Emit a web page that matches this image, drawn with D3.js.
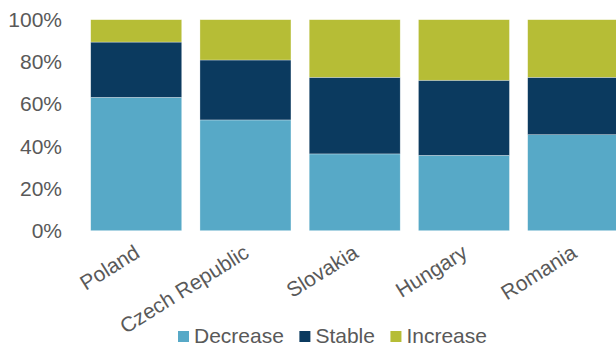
<!DOCTYPE html>
<html>
<head>
<meta charset="utf-8">
<script src="https://cdn.jsdelivr.net/npm/d3@7"></script>
<style>
  html, body { margin: 0; padding: 0; background: #fff; overflow: hidden; }
  svg { display: block; font-family: "Liberation Sans", Arial, sans-serif; }
</style>
</head>
<body>
<svg id="chart" width="616" height="347"></svg>
<script>
// Share of answers per country (percent of respondents)
const countries = ["Poland", "Czech Republic", "Slovakia", "Hungary", "Romania"];
const decrease  = [63.2, 52.5, 36.4, 35.7, 45.5];
const stable    = [26.2, 28.4, 36.3, 35.6, 27.2];
const increase  = [10.6, 19.1, 27.3, 28.7, 27.3];
const seriesNames = ["Decrease", "Stable", "Increase"];
const seriesColors = ["#57A9C7", "#0B3A5F", "#B6BD36"];
const yTicks = [0, 20, 40, 60, 80, 100];

const rows = countries.map((c, i) => ({
  country: c, Decrease: decrease[i], Stable: stable[i], Increase: increase[i]
}));

const svg = d3.select("#chart");
const textColor = "#595959";
const fontSize = "21px";

const x = d3.scaleBand()
  .domain(countries)
  .range([81.6, 627.8])
  .paddingInner(0.167)
  .paddingOuter(0.0835);

const y = d3.scaleLinear().domain([0, 100]).range([230.7, 19.7]);

const color = d3.scaleOrdinal().domain(seriesNames).range(seriesColors);

const stacked = d3.stack().keys(seriesNames)(rows);

// Stacked bars
svg.append("g")
  .selectAll("g")
  .data(stacked)
  .join("g")
  .attr("fill", d => color(d.key))
  .selectAll("rect")
  .data(d => d)
  .join("rect")
  .attr("x", d => x(d.data.country))
  .attr("width", x.bandwidth())
  .attr("y", d => y(d[1]))
  .attr("height", d => y(d[0]) - y(d[1]))
  .attr("stroke", "#ffffff")
  .attr("stroke-width", 0.6)
  .attr("stroke-opacity", 0.5);

// Y axis (labels only)
const yAxis = svg.append("g")
  .attr("transform", "translate(62,0)")
  .call(d3.axisLeft(y).tickValues(yTicks).tickFormat(d => d + "%").tickSize(0).tickPadding(0));
yAxis.select(".domain").remove();
yAxis.selectAll("text")
  .attr("fill", textColor)
  .attr("font-size", fontSize)
  .attr("font-family", "'Liberation Sans', Arial, sans-serif");

// X axis category labels, rotated
const xAxis = svg.append("g")
  .attr("transform", "translate(0,250)")
  .call(d3.axisBottom(x).tickSize(0).tickPadding(0));
xAxis.select(".domain").remove();
xAxis.selectAll("text")
  .attr("fill", textColor)
  .attr("font-size", fontSize)
  .attr("font-family", "'Liberation Sans', Arial, sans-serif")
  .attr("text-anchor", "end")
  .attr("y", 0)
  .attr("dy", "0.35em")
  .attr("transform", "translate(1,0) rotate(-32)");

// Legend
const legend = svg.append("g").attr("transform", "translate(178,0)");
let lx = 0;
seriesNames.forEach(name => {
  const g = legend.append("g").attr("transform", `translate(${lx},0)`);
  g.append("rect")
    .attr("x", 0).attr("y", 331)
    .attr("width", 11).attr("height", 11)
    .attr("fill", color(name));
  const t = g.append("text")
    .attr("x", 16).attr("y", 343)
    .attr("fill", textColor)
    .attr("font-size", fontSize)
    .text(name);
  lx += 16 + t.node().getComputedTextLength() + 15.5;
});
</script>
</body>
</html>
